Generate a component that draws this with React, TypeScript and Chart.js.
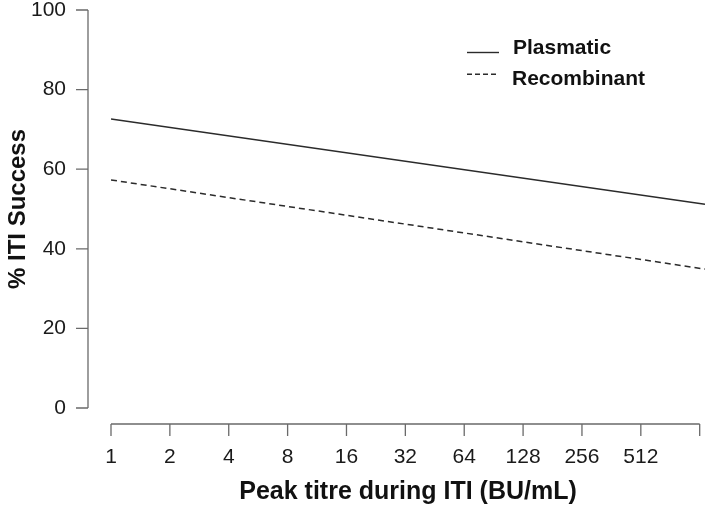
import React, { useEffect, useRef } from "react";
import { Chart, registerables } from "chart.js";

Chart.register(...registerables);

// ---- data ----
const titres = [1, 1090];
const plasmatic = [72.6, 51.2];
const recombinant = [57.3, 34.9];
const seriesNames = ["Plasmatic", "Recombinant"];
const xTicks = [1, 2, 4, 8, 16, 32, 64, 128, 256, 512, 1024];
const xTickLabels = ["1", "2", "4", "8", "16", "32", "64", "128", "256", "512", ""];
const yTicks = [0, 20, 40, 60, 80, 100];
const xTitle = "Peak titre during ITI (BU/mL)";
const yTitle = "% ITI Success";

const FONT = "'Liberation Sans', Arial, Helvetica, sans-serif";
const AXIS_COLOR = "#6a6a6a";
const LINE_COLOR = "#2b2b2b";

const rAxesPlugin = {
  id: "rAxes",
  afterDraw(chart: any) {
    const { ctx, chartArea } = chart;
    const x = chart.scales.x;
    const y = chart.scales.y;
    ctx.save();
    ctx.strokeStyle = AXIS_COLOR;
    ctx.lineWidth = 1.3;
    ctx.setLineDash([]);
    // y axis (detached)
    const ax = chartArea.left - 23;
    ctx.beginPath();
    ctx.moveTo(ax, y.getPixelForValue(yTicks[yTicks.length - 1]));
    ctx.lineTo(ax, y.getPixelForValue(yTicks[0]));
    yTicks.forEach((v) => {
      const py = y.getPixelForValue(v);
      ctx.moveTo(ax, py);
      ctx.lineTo(ax - 12, py);
    });
    // x axis (detached)
    const ay = chartArea.bottom + 16;
    ctx.moveTo(x.getPixelForValue(xTicks[0]), ay);
    ctx.lineTo(x.getPixelForValue(xTicks[xTicks.length - 1]), ay);
    xTicks.forEach((v) => {
      const px = x.getPixelForValue(v);
      ctx.moveTo(px, ay);
      ctx.lineTo(px, ay + 12);
    });
    ctx.stroke();

    // legend
    ctx.strokeStyle = LINE_COLOR;
    ctx.lineWidth = 1.4;
    ctx.beginPath();
    ctx.moveTo(467, 52.5);
    ctx.lineTo(499, 52.5);
    ctx.stroke();
    ctx.setLineDash([5, 3]);
    ctx.beginPath();
    ctx.moveTo(467, 74.3);
    ctx.lineTo(499, 74.3);
    ctx.stroke();
    ctx.setLineDash([]);
    ctx.fillStyle = "#111";
    ctx.font = `bold 21px ${FONT}`;
    ctx.textAlign = "left";
    ctx.textBaseline = "alphabetic";
    ctx.fillText(seriesNames[0], 513, 53.5);
    ctx.fillText(seriesNames[1], 512, 85);
    ctx.restore();
  },
};

export default function App() {
  const ref = useRef<HTMLCanvasElement | null>(null);

  useEffect(() => {
    if (!ref.current) return;
    const chart = new Chart(ref.current, {
      type: "line",
      data: {
        datasets: [
          {
            label: seriesNames[0],
            data: titres.map((t, i) => ({ x: t, y: plasmatic[i] })),
            borderColor: LINE_COLOR,
            borderWidth: 1.5,
            pointRadius: 0,
            tension: 0,
            fill: false,
          },
          {
            label: seriesNames[1],
            data: titres.map((t, i) => ({ x: t, y: recombinant[i] })),
            borderColor: LINE_COLOR,
            borderWidth: 1.5,
            borderDash: [6, 4],
            pointRadius: 0,
            tension: 0,
            fill: false,
          },
        ],
      },
      options: {
        animation: false,
        responsive: false,
        devicePixelRatio: 1,
        layout: { padding: { left: 0, right: 4, top: 10, bottom: 0 } },
        plugins: { legend: { display: false }, tooltip: { enabled: false } },
        scales: {
          x: {
            type: "logarithmic",
            min: titres[0],
            max: titres[titres.length - 1],
            grid: { display: false, drawTicks: true, tickLength: 37 },
            border: { display: false },
            afterBuildTicks: (scale: any) => {
              scale.ticks = xTicks.map((v) => ({ value: v }));
            },
            afterFit: (scale: any) => {
              scale.height = 102;
            },
            ticks: {
              autoSkip: false,
              maxRotation: 0,
              minRotation: 0,
              padding: 0,
              color: "#1a1a1a",
              font: { family: FONT, size: 21 },
              callback: (value: any) => {
                const i = xTicks.indexOf(Number(value));
                return i >= 0 ? xTickLabels[i] : "";
              },
            },
            title: {
              display: true,
              text: xTitle,
              color: "#111",
              font: { family: FONT, size: 25, weight: "bold" },
              padding: { top: 2, bottom: 2.5 },
            },
          },
          y: {
            type: "linear",
            min: yTicks[0],
            max: yTicks[yTicks.length - 1],
            grid: { display: false, drawTicks: true, tickLength: 45 },
            border: { display: false },
            afterBuildTicks: (scale: any) => {
              scale.ticks = yTicks.map((v) => ({ value: v }));
            },
            afterFit: (scale: any) => {
              scale.width = 111;
            },
            ticks: {
              padding: 0,
              color: "#1a1a1a",
              font: { family: FONT, size: 21, lineHeight: 0.9 },
            },
            title: {
              display: true,
              text: yTitle,
              color: "#111",
              font: { family: FONT, size: 24, weight: "bold" },
              padding: { top: 4, bottom: 0 },
            },
          },
        },
      },
      plugins: [rAxesPlugin],
    });
    return () => chart.destroy();
  }, []);

  return (
    <div style={{ position: "fixed", left: 0, top: 0, width: 709, height: 510, background: "#fff" }}>
      <canvas ref={ref} width={709} height={510} style={{ display: "block" }} />
    </div>
  );
}
